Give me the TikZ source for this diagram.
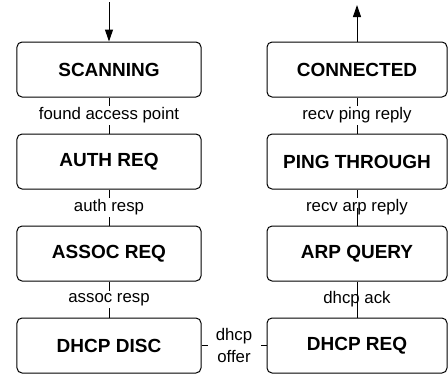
\documentclass[tikz,border=0pt]{standalone}
\usepackage{fontspec}
\setmainfont{Liberation Sans}
\usetikzlibrary{arrows.meta}
\tikzset{
  statebox/.style={draw=black, line width=1bp, rounded corners=5bp, minimum height=55bp, inner sep=0pt,
    font=\fontsize{19bp}{22bp}\selectfont\bfseries},
  lbox/.style={statebox, minimum width=184bp},
  rbox/.style={statebox, minimum width=180bp},
  conn/.style={line width=1bp, draw=black},
  lbl/.style={font=\fontsize{16.8bp}{22bp}\selectfont, inner xsep=2bp, inner ysep=2bp, align=center},
  lblw/.style={lbl, fill=white},
  tip/.style={-{Triangle[length=12bp,width=8bp]}}
}
\begin{document}
\begin{tikzpicture}[x=1bp,y=-1bp]
\useasboundingbox (0,0) rectangle (448,376);
% left column
\node[lbox] (scan)  at (109,69.5)  {SCANNING};
\node[lbox] (auth)  at (109,161.5) {AUTH REQ};
\node[lbox] (assoc) at (109,253.5) {ASSOC REQ};
\node[lbox] (disc)  at (109,345.5) {DHCP DISC};
% right column
\node[rbox] (conn)  at (357,69.5)  {CONNECTED};
\node[rbox] (ping)  at (357,161.5) {PING THROUGH};
\node[rbox] (arp)   at (357,253.5) {ARP QUERY};
\node[rbox] (req)   at (357,345.5) {DHCP REQ};
% entry / exit
\coordinate (in)  at (109,2);
\coordinate (out) at (357,5);
\draw[conn,tip] (in) -- (scan.north);
\draw[conn,tip] (conn.north) -- (out);
% left transitions
\draw[conn] (scan.south) -- (auth.north) node[lblw, midway] {found access point};
\draw[conn] (auth.south) -- (assoc.north) node[lblw, midway] {auth resp};
\draw[conn] (assoc.south) -- (disc.north) node[lblw, midway] {assoc resp};
% bottom transition
\draw[conn] (disc.east) -- (req.west) node[lblw, midway, minimum width=53bp, inner ysep=0pt] {dhcp\\offer};
% right transitions
\draw[conn] (req.north) -- (arp.south) node[lbl, midway] {dhcp ack};
\draw[conn] (arp.north) -- (ping.south) node[lblw, midway] (arplbl) {recv arp reply};
\draw[conn] (arp.north) -- (arplbl.center);
\draw[conn] (ping.north) -- (conn.south) node[lblw, midway] {recv ping reply};
\end{tikzpicture}
\end{document}
